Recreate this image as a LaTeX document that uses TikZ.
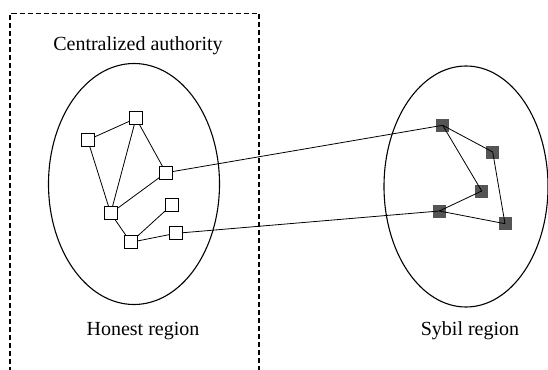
\documentclass[tikz,border=0pt]{standalone}
\usepackage{fontspec}
\setmainfont{Liberation Serif}
\begin{document}
\begin{tikzpicture}[x=1pt,y=-1pt,
  honest/.style={draw=black,fill=white,line width=1.2pt,minimum size=13pt,inner sep=0pt,outer sep=0pt},
  sybil/.style={fill=sybilgray,minimum size=13pt,inner sep=0pt,outer sep=0pt},
  region/.style={draw=black,line width=1.1pt},
  link/.style={draw=black,line width=0.8pt},
  lbl/.style={font=\fontsize{20}{24}\selectfont,inner sep=0pt}]
\definecolor{sybilgray}{HTML}{555555}
\useasboundingbox (0,0) rectangle (548,369);

% dashed boundary of the centralized authority (open at the bottom)
\begin{scope}
\clip (0,0) rectangle (548,369);
\draw[black,line width=1.2pt,dash pattern=on 5pt off 3pt] (10,380) -- (10,13.5) -- (259,13.5) -- (259,380);
\end{scope}

% regions
\draw[region] (134,184) ellipse [x radius=85.5, y radius=120.5];
\draw[region] (466,186.5) ellipse [x radius=82, y radius=120.5];

\node[lbl] (ca) at (138,46) {Centralized authority};
\node[lbl] (hr) at (143,331) {Honest region};
\node[lbl] (sr) at (470,331) {Sybil region};

% honest nodes
\coordinate (pa) at (87.7,140);
\coordinate (pb) at (136,118.3);
\coordinate (pc) at (166,172.7);
\coordinate (pd) at (110.7,213.3);
\coordinate (pe) at (171.7,205);
\coordinate (pf) at (130.7,242.3);
\coordinate (pg) at (176,233.3);

% sybil nodes
\node[sybil] (p) at (442.7,125.3) {};
\node[sybil] (q) at (492.7,152) {};
\node[sybil] (r) at (481.7,191) {};
\node[sybil] (s) at (439.3,211) {};
\node[sybil] (t) at (505,223.7) {};

% honest edges and attack edges
\draw[link] (pa) -- (pb);
\draw[link] (pa) -- (pd);
\draw[link] (pb) -- (pd);
\draw[link] (pb) -- (pc);
\draw[link] (pc) -- (pd);
\draw[link] (pd) -- (pf);
\draw[link] (pf) -- (pe);
\draw[link] (pf) -- (pg);
\draw[link] (pc) -- (p.center);
\draw[link] (pg) -- (s.center);

\node[honest] (a) at (pa) {};
\node[honest] (b) at (pb) {};
\node[honest] (c) at (pc) {};
\node[honest] (d) at (pd) {};
\node[honest] (e) at (pe) {};
\node[honest] (f) at (pf) {};
\node[honest] (g) at (pg) {};

% sybil edges
\draw[link] (p.center) -- (q.center);
\draw[link] (p.center) -- (r.center);
\draw[link] (r.center) -- (s.center);
\draw[link] (s.center) -- (t.center);
\draw[link] (q.center) -- (t.center);
\end{tikzpicture}
\end{document}
